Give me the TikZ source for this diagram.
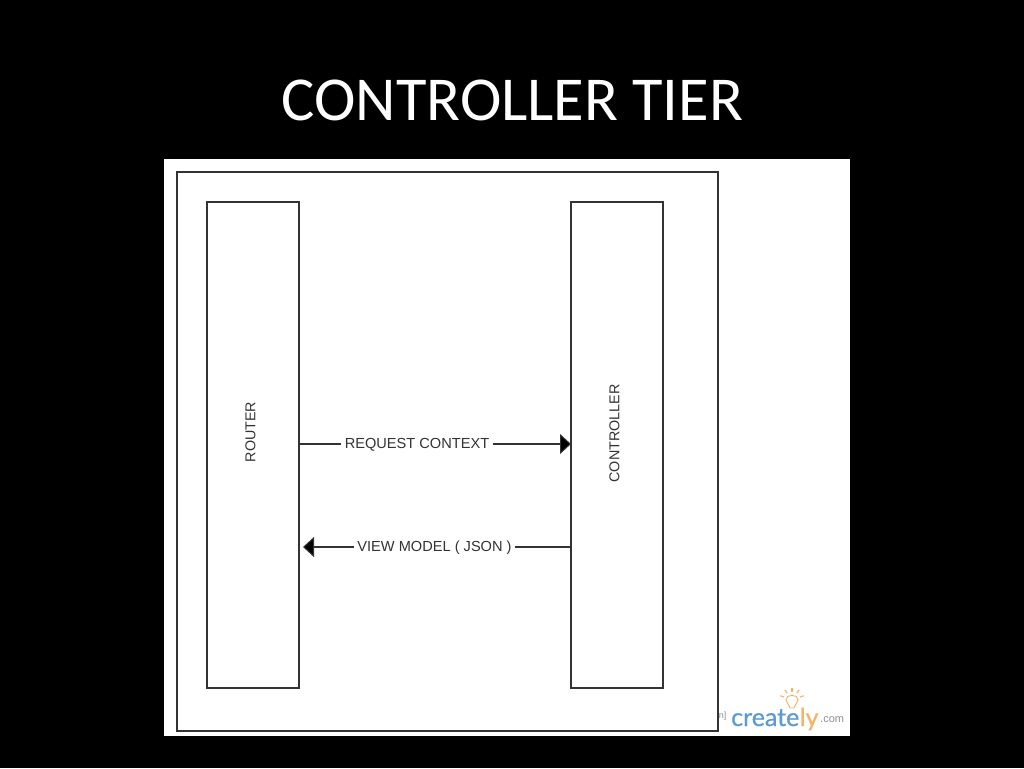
\documentclass[tikz,border=0pt]{standalone}
\usepackage{fontspec}
\setmainfont{Liberation Sans}
\newfontfamily\titlefont{Carlito}
\newfontfamily\logofont[FakeBold=0.6]{Lato}
\usetikzlibrary{arrows.meta}
\definecolor{lineC}{HTML}{333333}
\definecolor{crblue}{HTML}{5B9BD0}
\definecolor{crorange}{HTML}{F7B267}
\definecolor{crgrey}{HTML}{8A8F94}
\tikzset{
  panel/.style={draw=lineC,line width=1.05pt,fill=white,inner sep=0pt,outer sep=0pt,anchor=north west},
  flow/.style={draw=lineC,line width=1.05pt,-{Triangle[length=11pt,width=20pt,fill=black]}},
  flowlabel/.style={font=\fontsize{14.6}{16}\selectfont,text=lineC,fill=white,inner xsep=3.5pt,inner ysep=3pt},
  boxlabel/.style={font=\fontsize{14.3}{16}\selectfont,text=lineC,rotate=90,inner sep=0pt}
}
\begin{document}
\begin{tikzpicture}[x=1pt,y=-1pt]
\useasboundingbox[fill=black] (0,0) rectangle (1024,768);
\node[text=white,font=\titlefont\fontsize{62.5}{66}\selectfont,inner sep=0pt] (title) at (512.5,100) {CONTROLLER TIER};
\node[fill=white,inner sep=0pt,outer sep=0pt,anchor=north west,minimum width=686pt,minimum height=577pt] (sheet) at (164,159) {};
\node[panel,minimum width=541pt,minimum height=559pt] (outer) at (177,172) {};
\node[panel,minimum width=92pt,minimum height=486pt] (router) at (207,202) {};
\node[panel,minimum width=92pt,minimum height=486pt] (controller) at (571,202) {};
\node[boxlabel] (routerlabel) at (250.5,432) {ROUTER};
\node[boxlabel] (controllerlabel) at (614.5,433.5) {CONTROLLER};
\coordinate (reqstart) at (router.east |- 0,444);
\coordinate (reqend) at (controller.west |- 0,444);
\draw[flow] (reqstart) -- (reqend);
\node[flowlabel] (req) at (417,445) {REQUEST CONTEXT};
\coordinate (vmstart) at (controller.west |- 0,547);
\coordinate (vmend) at (303,547);
\draw[flow] (vmstart) -- (vmend);
\node[flowlabel] (vm) at (434.5,548) {VIEW MODEL ( JSON )};
% logo
\node[text=crgrey,font=\fontsize{9}{10}\selectfont,inner sep=0pt] (frag) at (722.5,716.5) {n]};
\node[anchor=base west,inner sep=0pt,font=\logofont\fontsize{25}{26}\selectfont,text=crblue] (cr) at (731,726) {create};
\node[anchor=base west,inner sep=0pt,font=\logofont\fontsize{25}{26}\selectfont,text=crorange] (ly) at (cr.base east) {ly};
\node[anchor=base west,inner sep=0pt,font=\fontsize{11}{12}\selectfont,text=crgrey] (com) at (820,722) {.com};
\draw[crorange,line width=0.9pt,fill=white] (790,708) .. controls (789,704) and (786,703) .. (786,699.5) .. controls (786,694) and (798,694) .. (798,699.5) .. controls (798,703) and (795,704) .. (794,708) -- cycle;
\foreach \a in {-160,-125,-90,-55,-20}{\draw[crorange,line width=1.1pt] (792,700) ++(\a:8.5) -- ++(\a:4);}
\end{tikzpicture}
\end{document}
